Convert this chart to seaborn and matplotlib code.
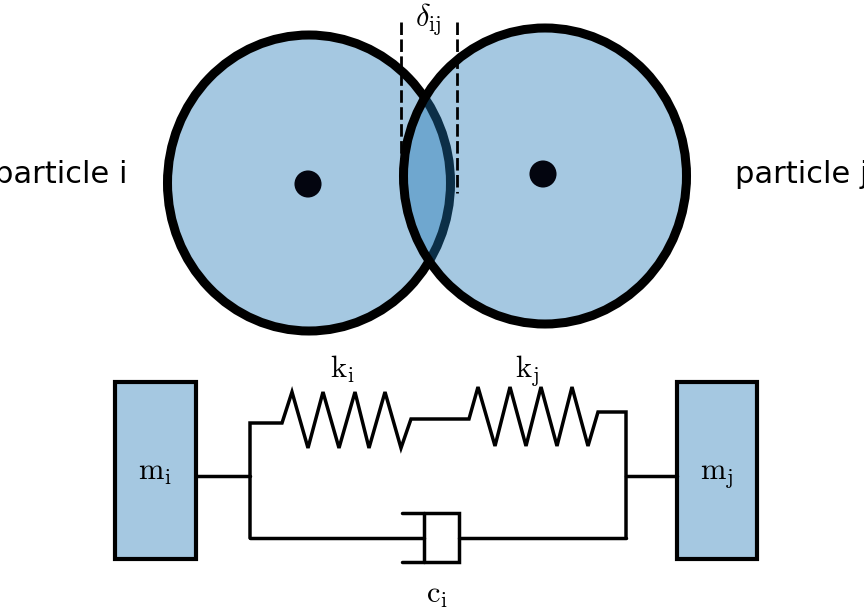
import matplotlib
matplotlib.use('Agg')
import matplotlib.pyplot as plt
import seaborn as sns
from matplotlib.patches import Ellipse, Rectangle

sns.set_theme(style='white')
plt.rcParams['font.family'] = ['DejaVu Sans']
plt.rcParams['mathtext.fontset'] = 'cm'
plt.rcParams['text.color'] = 'black'

# particles (pixel space, y pointing down)
particle_names = ['particle i', 'particle j']
particle_x = [309, 545]
particle_y = [183, 176]
dot_x = [308, 543]
dot_y = [184, 174]
particle_w = [283, 283]
particle_h = [296, 296]

# overlap markers
overlap_x = [401, 457]
overlap_y = [22, 193]

# spring branch (top wire with k_i and k_j)
spring_x = [250, 250, 282, 292, 308, 323, 339, 355, 369, 385, 401, 411, 469,
            478, 495, 510, 526, 541, 557, 572, 588, 598, 626, 626]
spring_y = [538, 423, 423, 392, 448, 392, 448, 392, 448, 392, 448, 419, 419,
            387, 446, 387, 446, 387, 446, 387, 446, 412, 412, 538]

# dashpot branch (bottom wire with c_i)
rod_left_x = [250, 424]
rod_right_x = [459, 626]
rod_y = [538, 538]
piston_x = [424, 424]
piston_y = [513, 562]
cyl_x = [402, 459, 459, 402]
cyl_y = [513, 513, 562, 562]

# masses
mass_x = [115, 677]
mass_y = [382, 382]
mass_w = [81, 80]
mass_h = [177, 177]
mass_labels = [r'$\mathrm{m_i}$', r'$\mathrm{m_j}$']
link_left_x = [196, 250]
link_right_x = [626, 677]
link_y = [476, 476]

fill = (0.122, 0.467, 0.706, 0.4)  # tab:blue, translucent

fig = plt.figure(figsize=(8.64, 6.11), dpi=100)
ax = fig.add_axes([0, 0, 1, 1])
ax.set_xlim(0, 864)
ax.set_ylim(611, 0)
ax.axis('off')

for cx, cy, w, h in zip(particle_x, particle_y, particle_w, particle_h):
    ax.add_patch(Ellipse((cx, cy), w, h, facecolor=fill,
                         edgecolor='black', linewidth=6.5))

sns.scatterplot(x=dot_x, y=dot_y, s=380, color='#03050f',
                edgecolor='none', ax=ax, zorder=5)

for x in overlap_x:
    ax.plot([x, x], overlap_y, color='black', linewidth=2,
            linestyle=(0, (4.5, 1.6)), zorder=6)

ax.text(428, 26, r'$\delta_{\mathrm{ij}}$', fontsize=22, ha='center',
        va='baseline')
ax.text(128, 183, particle_names[0], fontsize=22, ha='right', va='baseline')
ax.text(735, 183, particle_names[1], fontsize=22, ha='left', va='baseline')

# mechanical model
lw = 2.5
ax.plot(spring_x, spring_y, color='black', linewidth=lw, solid_joinstyle='miter')
ax.plot(rod_left_x, rod_y, color='black', linewidth=lw)
ax.plot(rod_right_x, rod_y, color='black', linewidth=lw)
ax.plot(piston_x, piston_y, color='black', linewidth=lw)
ax.plot(cyl_x, cyl_y, color='black', linewidth=lw, solid_joinstyle='miter')
ax.plot(link_left_x, link_y, color='black', linewidth=lw)
ax.plot(link_right_x, link_y, color='black', linewidth=lw)

for x, y, w, h, lab in zip(mass_x, mass_y, mass_w, mass_h, mass_labels):
    ax.add_patch(Rectangle((x, y), w, h, facecolor=fill,
                           edgecolor='black', linewidth=3))
    ax.text(x + w / 2, 480, lab, fontsize=22, ha='center', va='baseline')

ax.text(342, 378, r'$\mathrm{k_i}$', fontsize=22, ha='center', va='baseline')
ax.text(527, 378, r'$\mathrm{k_j}$', fontsize=22, ha='center', va='baseline')
ax.text(437, 603, r'$\mathrm{c_i}$', fontsize=22, ha='center', va='baseline')

fig.savefig('out.png', dpi=100)
